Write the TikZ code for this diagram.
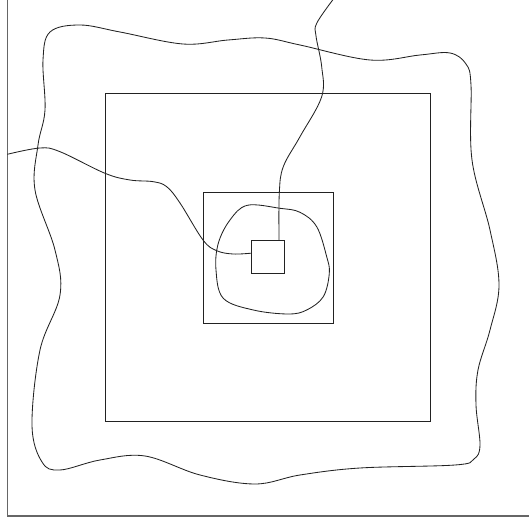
\documentclass[tikz,border=0pt]{standalone}
\usepackage{tikz}
\usetikzlibrary{calc, positioning}
\definecolor{ink}{HTML}{222222}
\definecolor{frame}{HTML}{666666}

\begin{document}
\begin{tikzpicture}[x=0.025cm, y=-0.025cm, line width=0.6pt,
  sq/.style={draw=ink, inner sep=0pt, outer sep=0pt}]
  \useasboundingbox (0,0) rectangle (529,524);
  \clip (0,0) rectangle (529,524);
  % the frame
  \draw[frame, line width=0.9pt] (7.5,-10) rectangle (540,516);
  % nested squares
  \node[sq, minimum width=8.125cm, minimum height=8.2cm] (outer) at (267.5,257) {};
  \node[sq, minimum width=3.25cm, minimum height=3.275cm] (inner) at (268,257.5) {};
  \node[sq, minimum size=0.825cm] (core) at (267.5,256.5) {};
  \coordinate (lin) at ($(core.north west)!0.4!(core.south west)$);
  \coordinate (tin) at ($(core.north west)!0.85!(core.north east)$);
  % the wavy ring
  \draw[ink] plot[smooth cycle, tension=0.6] coordinates {
    (43,60) (50,32) (80,25) (120,32) (183,44) (228,40) (265,38) (300,45)
    (370,60) (420,55) (450,53) (466,64) (471,85) (472,160) (490,230)
    (499,285) (490,330) (478,370) (476,405) (480,445) (474,459) (455,465)
    (360,468) (300,475) (255,484) (200,475) (145,456) (100,460) (60,470)
    (42,462) (32,425) (40,350) (60,295) (55,250) (35,190) (38,145) (45,110)};
  % the blob round the core
  \draw[ink] plot[smooth cycle, tension=0.6] coordinates {
    (247.3,205.3) (280,208.3) (300,212.3) (316.7,226.7) (326.7,256.7)
    (329.3,273.3) (323.3,296.7) (306.7,310) (288.3,314) (253.3,310)
    (223.3,298.3) (216,270) (218.3,243.3) (230,220)};
  % the two paths into the core
  \draw[ink] plot[smooth, tension=0.6] coordinates {
    (7.3,154.3) (40,148) (60,151.7) (105,173.3) (130,180) (153.3,181.7)
    (166.7,186.7) (180,203) (203,240) (216.7,250.7) (233,254) (lin)};
  \draw[ink] plot[smooth, tension=0.6] coordinates {
    (332.7,0) (316.7,23.3) (316,36) (321.7,66.7) (321.7,96.7) (300,136.7)
    (283.3,166.7) (279.3,193.3) (tin)};
\end{tikzpicture}
\end{document}
